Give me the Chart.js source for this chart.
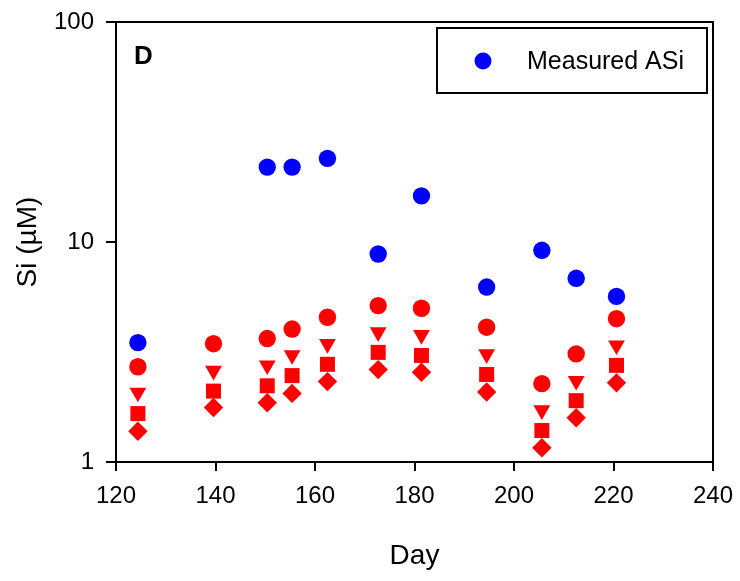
<!DOCTYPE html>
<html>
<head>
<meta charset="utf-8">
<script src="https://cdn.jsdelivr.net/npm/chart.js@4.4.1/dist/chart.umd.min.js"></script>
<style>
  body { margin: 0; background: #fff; }
  canvas { display: block; }
</style>
</head>
<body>
<canvas id="siChart" width="740" height="581"></canvas>
<script>
// dados (dia do ano, Si em uM)
const days = [124.4, 139.6, 150.4, 155.4, 162.5, 172.7, 181.4, 194.5, 205.6, 212.5, 220.6];
const measuredASi = [3.49, null, 21.9, 21.9, 24.0, 8.82, 16.2, 6.24, 9.17, 6.84, 5.66];
const redCircles = [2.71, 3.45, 3.64, 4.02, 4.55, 5.14, 5.00, 4.10, 2.27, 3.10, 4.48];
const redTriangles = [2.07, 2.60, 2.75, 3.06, 3.44, 3.89, 3.78, 3.09, 1.72, 2.34, 3.39];
const redSquares = [1.66, 2.10, 2.22, 2.47, 2.78, 3.15, 3.05, 2.50, 1.39, 1.90, 2.75];
const redDiamonds = [1.38, 1.77, 1.86, 2.05, 2.32, 2.63, 2.56, 2.08, 1.16, 1.59, 2.29];
const xTicks = [120, 140, 160, 180, 200, 220, 240];
const yTicks = [1, 10, 100];

const FONT = 'Arial, "Liberation Sans", sans-serif';

function toPoints(values) {
  return days.map((d, i) => ({ x: d, y: values[i] })).filter(p => p.y !== null);
}

// moldura do grafico + letra do painel + legenda
const framePlugin = {
  id: 'frame',
  afterDraw(chart) {
    const { ctx, chartArea: a } = chart;
    ctx.save();
    ctx.strokeStyle = '#000';
    ctx.lineWidth = 2;
    ctx.strokeRect(a.left, a.top, a.right - a.left, a.bottom - a.top);

    ctx.fillStyle = '#000';
    ctx.font = 'bold 26px ' + FONT;
    ctx.textBaseline = 'alphabetic';
    ctx.fillText('D', a.left + 18, a.top + 42);

    // legenda (so a serie azul)
    const bx = a.right - 276, by = a.top + 6, bw = 270, bh = 65;
    ctx.lineWidth = 2;
    ctx.strokeRect(bx, by, bw, bh);
    const ds = chart.data.datasets[0];
    ctx.beginPath();
    ctx.arc(bx + 46, by + 33, 8.5, 0, Math.PI * 2);
    ctx.fillStyle = ds.backgroundColor;
    ctx.fill();
    ctx.fillStyle = '#000';
    ctx.font = '25px ' + FONT;
    ctx.textBaseline = 'middle';
    ctx.fillText(ds.label, bx + 90, by + 34);
    ctx.restore();
  }
};

const canvasSi = document.getElementById('siChart').getContext('2d');
new Chart(canvasSi, {
  type: 'scatter',
  data: {
    datasets: [
      { label: 'Measured ASi', data: toPoints(measuredASi), pointStyle: 'circle', pointRadius: 8.7,
        backgroundColor: '#0000ff', borderColor: '#0000ff', borderWidth: 0 },
      { label: 'circle', data: toPoints(redCircles), pointStyle: 'circle', pointRadius: 8.7,
        backgroundColor: '#ff0000', borderColor: '#ff0000', borderWidth: 0 },
      { label: 'triangle', data: toPoints(redTriangles), pointStyle: 'triangle', pointRotation: 180, pointRadius: 9.7,
        backgroundColor: '#ff0000', borderColor: '#ff0000', borderWidth: 0 },
      { label: 'square', data: toPoints(redSquares), pointStyle: 'rect', pointRadius: 10.6,
        backgroundColor: '#ff0000', borderColor: '#ff0000', borderWidth: 0 },
      { label: 'diamond', data: toPoints(redDiamonds), pointStyle: 'rectRot', pointRadius: 9.7,
        backgroundColor: '#ff0000', borderColor: '#ff0000', borderWidth: 0 }
    ]
  },
  options: {
    responsive: false,
    animation: false,
    layout: { padding: { top: 22, right: 27, left: 0, bottom: 0 } },
    plugins: { legend: { display: false }, tooltip: { enabled: false } },
    scales: {
      x: {
        type: 'linear',
        min: 120,
        max: 240,
        afterBuildTicks: s => { s.ticks = xTicks.map(v => ({ value: v })); },
        afterFit: s => { s.height = 119; s.paddingLeft = 0; s.paddingRight = 0; },
        grid: { drawOnChartArea: false, drawTicks: true, tickLength: 9, color: '#000', lineWidth: 2 },
        border: { color: '#000', width: 2 },
        ticks: { color: '#000', font: { family: FONT, size: 24 }, padding: 11, maxRotation: 0 },
        title: { display: true, text: 'Day', color: '#000', font: { family: FONT, size: 28 }, padding: { top: 0, bottom: 8 } }
      },
      y: {
        type: 'logarithmic',
        min: 1,
        max: 100,
        afterBuildTicks: s => { s.ticks = yTicks.map(v => ({ value: v })); },
        afterFit: s => { s.width = 116; s.paddingTop = 0; s.paddingBottom = 0; },
        grid: { drawOnChartArea: false, drawTicks: true, tickLength: 10, color: '#000', lineWidth: 2 },
        border: { color: '#000', width: 2 },
        ticks: { color: '#000', font: { family: FONT, size: 24 }, padding: 12, callback: v => String(v) },
        title: { display: true, text: 'Si (\u00b5M)', color: '#000', font: { family: FONT, size: 28 }, padding: { top: 11, bottom: 0 } }
      }
    }
  },
  plugins: [framePlugin]
});
</script>
</body>
</html>
